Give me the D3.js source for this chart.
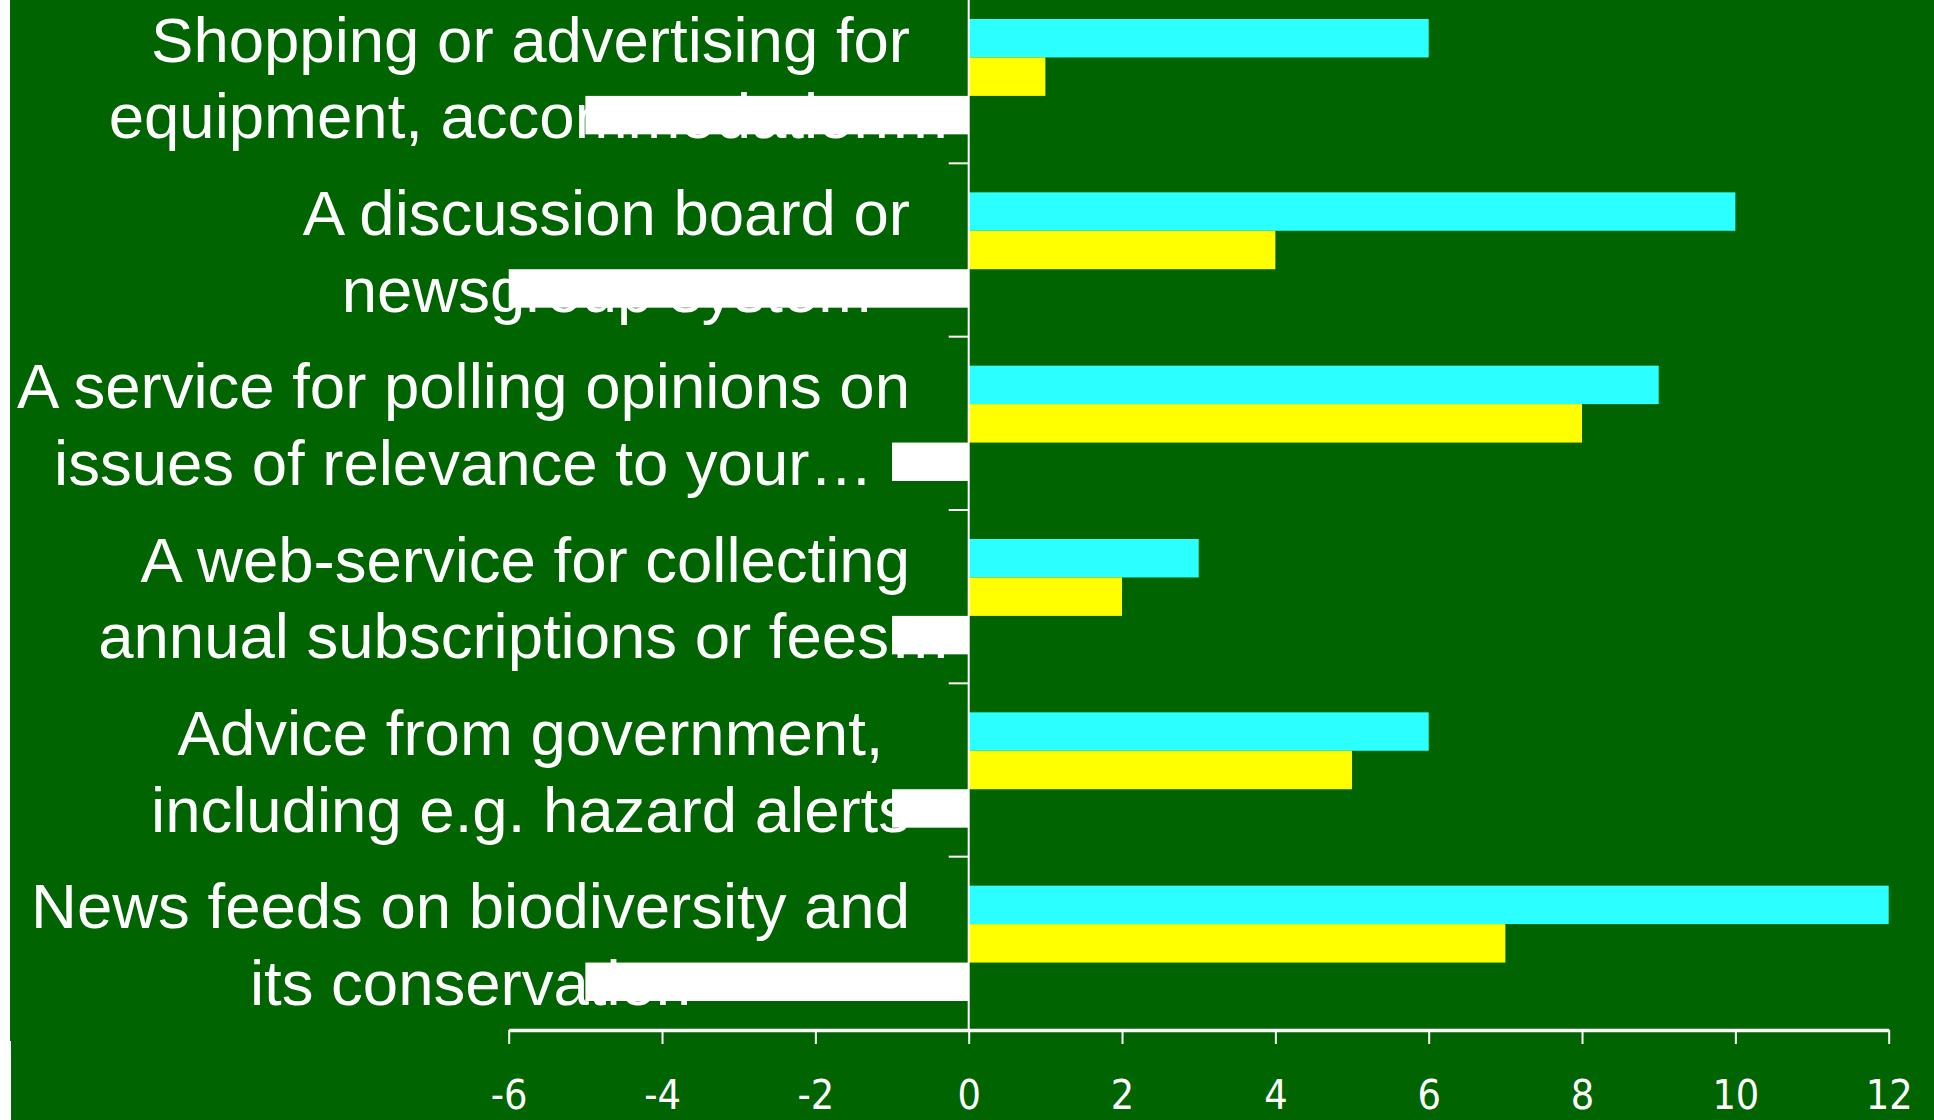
<!DOCTYPE html>
<html>
<head>
<meta charset="utf-8">
<script src="https://cdn.jsdelivr.net/npm/d3@7/dist/d3.min.js"></script>
<style>
  html, body { margin: 0; padding: 0; background: #ffffff; }
  svg { display: block; }
</style>
</head>
<body>
<svg id="chart" width="1934" height="1120"></svg>
<script>
// ---- data ----
const categories = [
  "Shopping or advertising for equipment, accommodation…",
  "A discussion board or newsgroup system",
  "A service for polling opinions on issues of relevance to your…",
  "A web-service for collecting annual subscriptions or fees…",
  "Advice from government, including e.g. hazard alerts",
  "News feeds on biodiversity and its conservation"
];
const labelLines = [
  ["Shopping or advertising for", "equipment, accommodation…"],
  ["A discussion board or", "newsgroup system"],
  ["A service for polling opinions on", "issues of relevance to your…"],
  ["A web-service for collecting", "annual subscriptions or fees…"],
  ["Advice from government,", "including e.g. hazard alerts"],
  ["News feeds on biodiversity and", "its conservation"]
];
const seriesNames = ["Series 1", "Series 2", "Series 3"];
const series1 = [6, 10, 9, 3, 6, 12];      // cyan
const series2 = [1, 4, 8, 2, 5, 7];        // yellow
const series3 = [-5, -6, -1, -1, -1, -5];  // white
const xTicks = [-6, -4, -2, 0, 2, 4, 6, 8, 10, 12];
const seriesColors = ["#2bffff", "#ffff00", "#ffffff"];

// ---- layout ----
const W = 1934, H = 1120;
const svg = d3.select("#chart");
const green = "#006400";

svg.append("rect").attr("x", 10).attr("y", 0).attr("width", W - 10).attr("height", 1041).attr("fill", green);
svg.append("rect").attr("x", 11).attr("y", 1040).attr("width", W - 11).attr("height", H - 1040).attr("fill", green);

const x = d3.scaleLinear().domain([-6, 12]).range([508.7, 1888.7]);
const y = d3.scaleBand().domain(categories).range([-10, 1030]);
const bw = y.bandwidth();
const yInner = d3.scaleBand().domain(seriesNames).range([29, bw - 29]);

const allSeries = [series1, series2, series3];

// ---- category labels (drawn under the bars) ----
const labelRight = 910;
const lblG = svg.append("g");
categories.forEach((c, i) => {
  const g = lblG.append("g");
  const cy = y(c) + bw / 2;
  const offs = [-15, 61.7];
  const texts = labelLines[i].map((ln, j) =>
    g.append("text")
      .attr("y", cy + offs[j])
      .attr("text-anchor", "middle")
      .attr("fill", "#ffffff")
      .style("font-family", "'Liberation Sans', Arial, sans-serif")
      .style("font-size", "63.5px")
      .text(ln)
  );
  let maxW = 0;
  texts.forEach((t, j) => {
    if (!labelLines[i][j].endsWith("…")) {
      maxW = Math.max(maxW, t.node().getComputedTextLength());
    }
  });
  const cx = labelRight - maxW / 2;
  texts.forEach(t => t.attr("x", cx));
});

// ---- bars ----
const barsG = svg.append("g");
allSeries.forEach((vals, s) => {
  barsG.selectAll(null)
    .data(vals.map((v, i) => ({ v, c: categories[i] })))
    .join("rect")
    .attr("x", d => x(Math.min(0, d.v)))
    .attr("width", d => Math.abs(x(d.v) - x(0)))
    .attr("y", d => y(d.c) + yInner(seriesNames[s]))
    .attr("height", yInner.bandwidth())
    .attr("fill", seriesColors[s]);
});

// ---- vertical axis at zero ----
svg.append("line")
  .attr("x1", x(0)).attr("x2", x(0))
  .attr("y1", 0).attr("y2", 1030)
  .attr("stroke", "#ffffff").attr("stroke-width", 2);
svg.append("g").selectAll("line")
  .data(categories.slice(1))
  .join("line")
  .attr("x1", x(0) - 20).attr("x2", x(0))
  .attr("y1", d => y(d)).attr("y2", d => y(d))
  .attr("stroke", "#ffffff").attr("stroke-width", 2);

// ---- bottom axis ----
const xAxis = d3.axisBottom(x).tickValues(xTicks).tickSize(14).tickSizeOuter(0).tickFormat(d3.format("d"));
const axG = svg.append("g").attr("transform", "translate(0,1030)").call(xAxis);
axG.select(".domain").attr("stroke", "#ffffff").attr("stroke-width", 3.5);
axG.selectAll(".tick line").attr("stroke", "#ffffff").attr("stroke-width", 2);
axG.selectAll(".tick text")
  .attr("y", 79).attr("dy", 0)
  .attr("fill", "#ffffff")
  .style("font-family", "'DejaVu Sans Condensed', 'DejaVu Sans', sans-serif")
  .style("font-size", "41px")
  .text(d => d < 0 ? "-" + Math.abs(d) : String(d));
</script>
</body>
</html>
